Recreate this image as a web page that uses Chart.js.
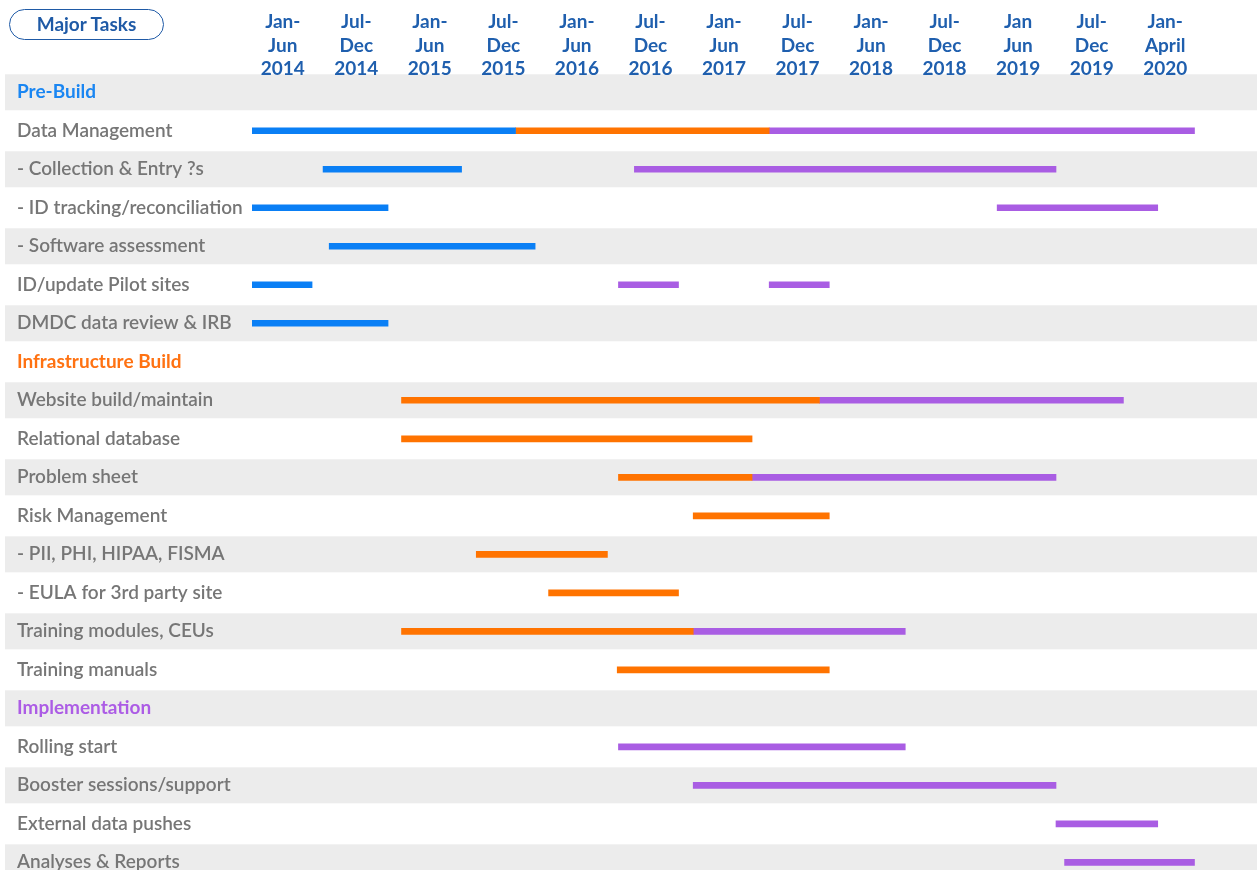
<!DOCTYPE html>
<html>
<head>
<meta charset="utf-8">
<script src="https://cdn.jsdelivr.net/npm/chart.js@4.4.1/dist/chart.umd.min.js"></script>
<style>
  html, body { margin: 0; padding: 0; background: #fff; overflow: hidden; }
  #wrap { position: relative; width: 1257px; height: 893px; }
  #major {
    position: absolute; left: 9px; top: 9px; width: 155px; height: 31px;
    box-sizing: border-box; border: 1.5px solid #1f5aa6; border-radius: 16px;
    font: bold 19px Lato, sans-serif; color: #1f5aa6; text-align: center; line-height: 28px;
  }
</style>
</head>
<body>
<div id="wrap">
  <canvas id="gantt" width="1257" height="893"></canvas>
  <div id="major">Major Tasks</div>
</div>
<script>
// rows of the gantt, top to bottom
const tasks = [
  'Pre-Build', 'Data Management', '- Collection & Entry ?s', '- ID tracking/reconciliation',
  '- Software assessment', 'ID/update Pilot sites', 'DMDC data review & IRB',
  'Infrastructure Build', 'Website build/maintain', 'Relational database', 'Problem sheet',
  'Risk Management', '- PII, PHI, HIPAA, FISMA', '- EULA for 3rd party site',
  'Training modules, CEUs', 'Training manuals',
  'Implementation', 'Rolling start', 'Booster sessions/support', 'External data pushes', 'Analyses & Reports'
];
const headerColors = { 'Pre-Build': '#1a86f2', 'Infrastructure Build': '#ff7212', 'Implementation': '#ac5ce5' };

// half-year columns (months since Jan 2014)
const periodStart = [0, 6, 12, 18, 24, 30, 36, 42, 48, 54, 60, 66, 72];
const periodLabels = [
  ['Jan-', 'Jun', '2014'], ['Jul-', 'Dec', '2014'], ['Jan-', 'Jun', '2015'], ['Jul-', 'Dec', '2015'],
  ['Jan-', 'Jun', '2016'], ['Jul-', 'Dec', '2016'], ['Jan-', 'Jun', '2017'], ['Jul-', 'Dec', '2017'],
  ['Jan-', 'Jun', '2018'], ['Jul-', 'Dec', '2018'], ['Jan', 'Jun', '2019'], ['Jul-', 'Dec', '2019'],
  ['Jan-', 'April', '2020']
];

// [task, start month, end month]
const preBuildBars = [
  ['Data Management', 0, 21.5],
  ['- Collection & Entry ?s', 5.8, 17.1],
  ['- ID tracking/reconciliation', 0, 11.1],
  ['- Software assessment', 6.3, 23.1],
  ['ID/update Pilot sites', 0, 4.9],
  ['DMDC data review & IRB', 0, 11.1]
];
const infraBars = [
  ['Data Management', 21.5, 42.2],
  ['Website build/maintain', 12.2, 46.3],
  ['Relational database', 12.2, 40.8],
  ['Problem sheet', 29.9, 40.8],
  ['Risk Management', 36, 47.1],
  ['- PII, PHI, HIPAA, FISMA', 18.3, 29],
  ['- EULA for 3rd party site', 24.2, 34.8],
  ['Training modules, CEUs', 12.2, 36],
  ['Training manuals', 29.8, 47.1]
];
const implBars = [
  ['Data Management', 42.2, 76.9],
  ['- Collection & Entry ?s', 31.2, 65.6],
  ['- ID tracking/reconciliation', 60.8, 73.9],
  ['ID/update Pilot sites', 29.9, 34.8],
  ['Website build/maintain', 46.3, 71.1],
  ['Problem sheet', 40.8, 65.6],
  ['Training modules, CEUs', 36, 53.3],
  ['Rolling start', 29.9, 53.3],
  ['Booster sessions/support', 36, 65.6],
  ['External data pushes', 65.6, 73.9],
  ['Analyses & Reports', 66.3, 76.9]
];
const implBars2 = [
  ['ID/update Pilot sites', 42.2, 47.1]
];

const toBars = (list) => list.map(([task, s, e]) => ({ y: task, x: [s, e] }));

const rowBands = {
  id: 'rowBands',
  beforeDraw(chart) {
    const { ctx, scales: { y } } = chart;
    ctx.save();
    ctx.fillStyle = '#ececec';
    tasks.forEach((t, i) => {
      if (i % 2) return;
      const c = y.getPixelForValue(i);
      ctx.fillRect(5, c - 18, chart.width - 5, 36);
    });
    ctx.restore();
  }
};

const barStyle = { barThickness: 6, grouped: false, borderWidth: 0, borderSkipped: false };

new Chart(document.getElementById('gantt'), {
  type: 'bar',
  data: {
    labels: tasks,
    datasets: [
      { ...barStyle, data: toBars(preBuildBars), backgroundColor: '#0a7ff5' },
      { ...barStyle, data: toBars(infraBars), backgroundColor: '#ff7300' },
      { ...barStyle, data: toBars(implBars), backgroundColor: '#a95de3' },
      { ...barStyle, data: toBars(implBars2), backgroundColor: '#a95de3' }
    ]
  },
  options: {
    indexAxis: 'y',
    responsive: false,
    animation: false,
    layout: { padding: { left: 17, right: 0, top: 0, bottom: 0 } },
    plugins: { legend: { display: false }, tooltip: { enabled: false } },
    scales: {
      x: {
        type: 'linear',
        position: 'top',
        min: 0,
        max: 82,
        grid: { display: false, drawTicks: false },
        border: { display: false },
        afterBuildTicks: (s) => { s.ticks = periodStart.map(v => ({ value: v + 3 })); },
        afterFit: (s) => {
          s.height = 73;
          // let the year line run a little into the first row, as in the slide
          s._computeLabelArea = () => null;
        },
        ticks: {
          autoSkip: false,
          maxRotation: 0,
          padding: -8,
          labelOffset: -6,
          color: '#1f5fae',
          font: { family: 'Lato', size: 19, weight: 'bold', lineHeight: 1.24 },
          callback: (v, i) => periodLabels[i]
        }
      },
      y: {
        grid: { display: false, drawTicks: false },
        border: { display: false },
        afterFit: (s) => { s.width = 235; },
        ticks: {
          crossAlign: 'far',
          autoSkip: false,
          padding: 0,
          color: (c) => headerColors[tasks[c.index]] || '#767676',
          font: (c) => headerColors[tasks[c.index]]
            ? { family: 'Lato', size: 19, weight: 'bold' }
            : { family: 'Lato', size: 19, weight: '600' }
        }
      }
    }
  },
  plugins: [rowBands]
});
</script>
</body>
</html>
